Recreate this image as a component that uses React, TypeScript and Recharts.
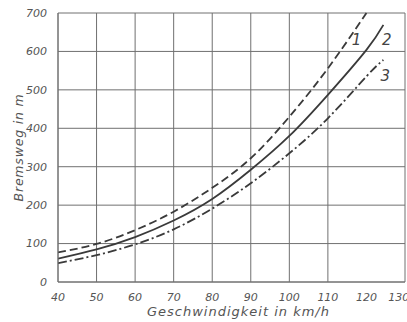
import { LineChart, Line, XAxis, YAxis, CartesianGrid, Label, ReferenceDot } from 'recharts'

// Geschwindigkeit (km/h) und Bremsweg (m) der drei Kurven
const SPEED = [40, 50, 60, 70, 80, 90, 100, 110, 120, 124.4]
const CURVE_1 = [77, 99, 135, 183, 245, 322, 430, 556, 700, null]
const CURVE_2 = [61, 85, 117, 160, 216, 292, 380, 487, 604, 669]
const CURVE_3 = [49, 70, 98, 137, 191, 257, 335, 426, 535, 578]

const X_TICKS = [40, 50, 60, 70, 80, 90, 100, 110, 120, 130]
const Y_TICKS = [0, 100, 200, 300, 400, 500, 600, 700]

// curve number tags: [label, speed, distance]
const TAGS: [string, number, number][] = [
  ['1', 117.4, 630],
  ['2', 125.3, 630],
  ['3', 124.9, 535],
]

const rows = SPEED.map((v, i) => ({ v, c1: CURVE_1[i], c2: CURVE_2[i], c3: CURVE_3[i] }))

const INK = '#3a3a3a'
const GRID = '#707070'
const FONT = '"DejaVu Sans", sans-serif'
const tick = { fontSize: 11, fill: '#555', fontStyle: 'italic', fontFamily: FONT }

function YTitle({ viewBox }: any) {
  const cx = 18
  const cy = viewBox.y + viewBox.height / 2
  return (
    <text
      x={cx}
      y={cy}
      transform={`rotate(-90, ${cx}, ${cy})`}
      textAnchor="middle"
      dominantBaseline="central"
      fontSize={12.5}
      fontStyle="italic"
      fontFamily={FONT}
      fill="#555"
      letterSpacing={0.8}
    >
      Bremsweg  in  m
    </text>
  )
}

function TagLabel({ viewBox, value }: any) {
  return (
    <text
      x={viewBox.cx ?? viewBox.x}
      y={viewBox.cy ?? viewBox.y}
      textAnchor="middle"
      dominantBaseline="central"
      fontSize={15}
      fontStyle="italic"
      fontFamily={FONT}
      fill="#444"
    >
      {value}
    </text>
  )
}

export default function App() {
  return (
    <div style={{ position: 'absolute', left: 0, top: 0, background: '#fff' }}>
      <LineChart width={407} height={322} data={rows} margin={{ top: 13, right: 2, bottom: 0, left: 0 }}>
        <CartesianGrid stroke={GRID} strokeWidth={1} />
        <XAxis
          dataKey="v"
          type="number"
          domain={[40, 130]}
          ticks={X_TICKS}
          allowDataOverflow
          height={40}
          tickLine={false}
          axisLine={{ stroke: GRID }}
          tick={tick}
          tickMargin={5}
        >
          <Label
            value="Geschwindigkeit  in  km/h"
            position="insideBottom"
            offset={6}
            dx={7}
            style={{ fontSize: 13, fontStyle: 'italic', fontFamily: FONT, fill: '#555', letterSpacing: 1 }}
          />
        </XAxis>
        <YAxis
          type="number"
          domain={[0, 700]}
          ticks={Y_TICKS}
          width={58}
          tickLine={false}
          axisLine={{ stroke: GRID }}
          tick={tick}
          tickMargin={5}
        >
          <Label content={<YTitle />} />
        </YAxis>
        <Line
          dataKey="c1"
          type="natural"
          stroke={INK}
          strokeWidth={1.8}
          strokeDasharray="8 4"
          dot={false}
          isAnimationActive={false}
        />
        <Line dataKey="c2" type="natural" stroke={INK} strokeWidth={1.8} dot={false} isAnimationActive={false} />
        <Line
          dataKey="c3"
          type="natural"
          stroke={INK}
          strokeWidth={1.8}
          strokeDasharray="9 3 2 3"
          dot={false}
          isAnimationActive={false}
        />
        {TAGS.map(([t, x, y]) => (
          <ReferenceDot key={t} x={x} y={y} r={0} stroke="none" fill="none" label={<TagLabel value={t} />} />
        ))}
      </LineChart>
    </div>
  )
}
